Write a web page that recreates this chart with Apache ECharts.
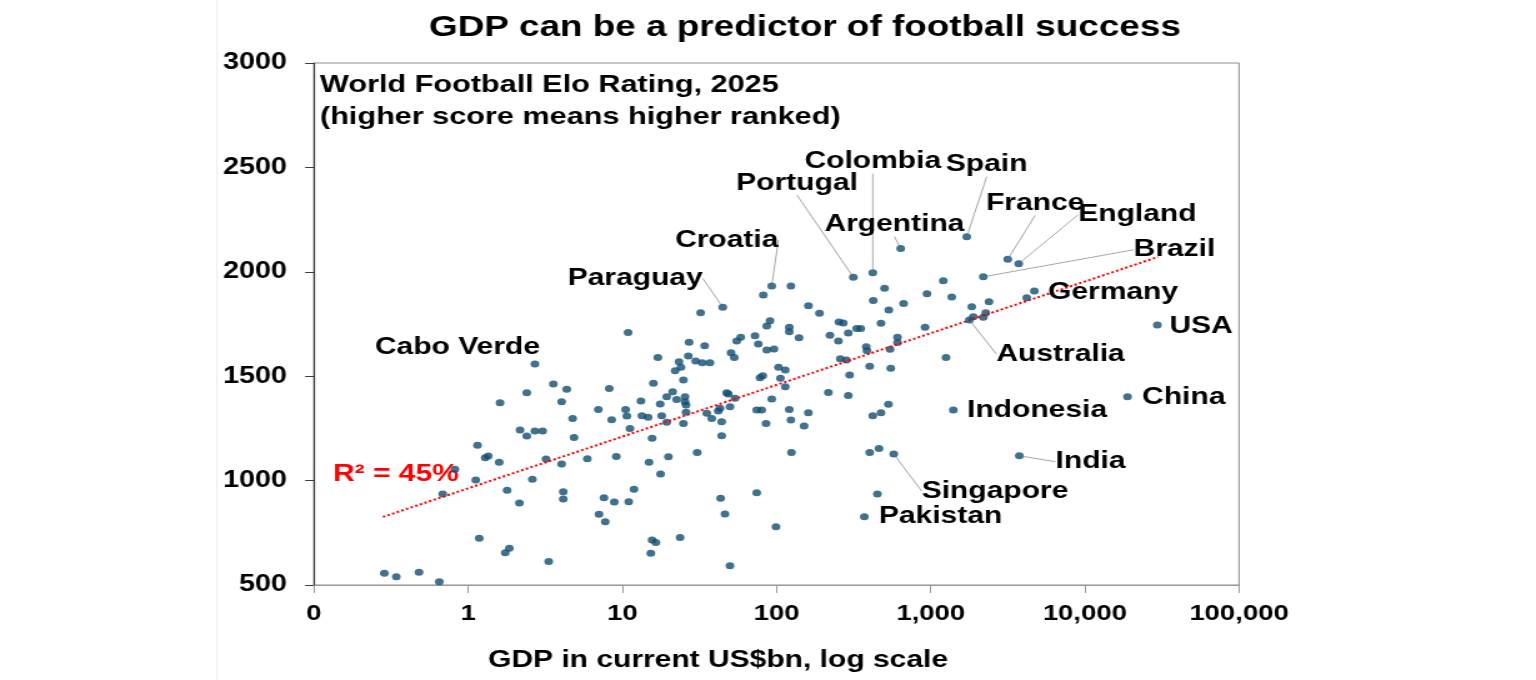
<!DOCTYPE html>
<html>
<head>
<meta charset="utf-8">
<title>GDP can be a predictor of football success</title>
<script src="https://cdn.jsdelivr.net/npm/echarts@6/dist/echarts.min.js"></script>
<style>
  html, body { margin: 0; padding: 0; background: #fff; overflow: hidden; }
  /* the source picture is stretched sideways, so the chart is drawn narrow and widened */
  #main { width: 1229px; height: 680px; transform: scaleX(1.2498); transform-origin: 0 0; }
</style>
</head>
<body>
<div id="main"></div>
<script>
// unlabelled countries: GDP (US$bn) and Elo rating
const gdp = [
  3.57, 2.40, 4.36, 1.61, 4.04, 8.23, 6.99, 10.5, 10.7, 8.53, 4.76, 11.2, 2.17, 2.71, 3.04, 2.40,
  4.86, 1.15, 1.29, 1.35, 1.59, 3.20, 4.04, 5.93, 9.14, 0.82, 1.12, 2.61, 0.684, 1.79, 4.14, 4.14,
  2.15, 7.60, 8.87, 11.0, 7.06, 7.75, 1.18, 1.74, 1.85, 3.33, 0.286, 0.342, 0.48, 0.65, 10.9,
  124, 82.1, 502, 946, 32.2, 161, 190, 424, 535, 667, 90.7, 86.4, 121, 121, 254, 271, 476, 919,
  72.5, 140, 222, 292, 331, 352, 27.1, 34.2, 55.2, 58.6, 76.2, 252, 609, 609, 86.4, 96.3, 382,
  386, 545, 17.0, 26.8, 29.9, 33.0, 37.0, 50.7, 53.2, 259, 284, 23.3, 24.0, 22.0, 103, 114, 402,
  551, 24.9, 81.4, 78.1, 106, 298, 15.9, 114, 21.2, 19.4, 22.5, 25.5, 25.5, 47.5, 48.7, 53.8,
  217, 292, 93.1, 13.2, 17.6, 25.9, 13.4, 14.7, 18.0, 19.4, 25.9, 35.3, 38.0, 43.0, 41.9, 49.9,
  44.1, 24.9, 74.4, 80.1, 121, 161, 124, 85.5, 151, 421, 476, 532, 15.6, 44.1, 14.9, 19.9, 17.7,
  30.6, 125, 402, 462, 11.9, 43.4, 74.4, 46.3, 451, 15.6, 16.5, 23.7, 15.3, 99.2, 49.9,
  1207, 1369, 4196, 1846, 2389, 1890, 2194, 2275, 1257
];
const elo = [
  1463, 1421, 1437, 1373, 1378, 1441, 1341, 1341, 1309, 1292, 1298, 1249, 1242, 1238, 1238, 1214,
  1207, 1169, 1110, 1118, 1088, 1103, 1079, 1105, 1116, 1054, 1003, 1006, 936, 954, 947, 912,
  893, 918, 897, 899, 839, 803, 724, 655, 676, 612, 556, 540, 561, 516, 1709,
  1932, 1889, 1921, 1895, 1804, 1838, 1802, 1862, 1817, 1848, 1766, 1740, 1734, 1713, 1760, 1755, 1753, 1734,
  1694, 1684, 1696, 1707, 1729, 1729, 1662, 1646, 1669, 1686, 1654, 1669, 1686, 1661, 1625, 1630, 1641,
  1622, 1629, 1590, 1597, 1573, 1565, 1565, 1612, 1590, 1584, 1578, 1569, 1543, 1526, 1543, 1530, 1548,
  1538, 1482, 1502, 1493, 1490, 1506, 1466, 1450, 1426, 1402, 1389, 1402, 1378, 1421, 1415, 1394,
  1422, 1407, 1391, 1381, 1367, 1362, 1311, 1303, 1311, 1279, 1327, 1322, 1298, 1346, 1333, 1354,
  1282, 1274, 1338, 1338, 1341, 1325, 1290, 1274, 1261, 1311, 1325, 1366, 1203, 1215, 1088, 1114, 1032,
  1134, 1134, 1134, 1154, 958, 915, 942, 840, 936, 716, 704, 727, 652, 779, 592,
  1957, 1879, 1876, 1833, 1857, 1785, 1782, 1804, 1589
];

// named countries
const countries = ['Cabo Verde', 'Paraguay', 'Croatia', 'Portugal', 'Colombia', 'Argentina', 'Spain',
  'France', 'England', 'Brazil', 'Germany', 'USA', 'Australia', 'Indonesia', 'China', 'India',
  'Singapore', 'Pakistan'];
const countryGdp = [2.71, 44.8, 93.1, 315, 421, 639, 1713, 3160, 3724, 2194, 4700, 29500, 1781,
  1402, 18900, 3756, 576, 371];
const countryElo = [1558, 1830, 1932, 1974, 1996, 2111, 2168, 2060, 2039, 1976, 1908, 1745, 1769,
  1338, 1402, 1119, 1127, 827];

// red dotted fitted line, ends
const trendGdp = [0.28, 29800];
const trendElo = [826, 2071];

const xTickLabels = ['0', '1', '10', '100', '1,000', '10,000', '100,000'];

// label shift from the dot [dx, dy] and whether a leader line is drawn
const labelSpot = {
  'Cabo Verde': [-62, -17, false],
  'Paraguay': [-70, -29, true],
  'Croatia': [-36, -46, true],
  'Portugal': [-45, -94, true],
  'Colombia': [0, -111, true],
  'Argentina': [-5, -24, true],
  'Spain': [16, -72, true],
  'France': [22, -56, true],
  'England': [95, -49, true],
  'Brazil': [153, -27, true],
  'Germany': [63, 1, false],
  'USA': [35, 1, false],
  'Australia': [73, 34, true],
  'Indonesia': [67, 0, false],
  'China': [45, 1, false],
  'India': [57, 6, true],
  'Singapore': [81, 37, true],
  'Pakistan': [61, 0, false]
};

const FONT = '"Liberation Sans", Arial, sans-serif';
const DOT = '#114d70';

const points = gdp.map((g, i) => [g, elo[i]]);
const named = countries.map((n, i) => ({
  name: n,
  value: [countryGdp[i], countryElo[i]],
  labelLine: { show: labelSpot[n][2] }
}));

const myChart = echarts.init(document.getElementById('main'), null, { renderer: 'canvas' });
myChart.setOption({
  animation: false,
  backgroundColor: '#ffffff',
  grid: {
    left: 251.2, right: 237.6, top: 63, bottom: 95,
    show: true, borderColor: '#8c8c8c', borderWidth: 1,
    outerBoundsMode: 'none'
  },
  xAxis: {
    type: 'log', logBase: 10, min: 0.1, max: 100000,
    axisLine: { lineStyle: { color: '#9a9a9a', width: 1 } },
    axisTick: { show: true, inside: false, length: 8, lineStyle: { color: '#9a9a9a' } },
    splitLine: { show: false },
    minorTick: { show: false },
    axisLabel: {
      margin: 18, color: '#000', fontFamily: FONT, fontWeight: 'bold', fontSize: 22,
      formatter: function (v) {
        return xTickLabels[Math.round(Math.log10(v)) + 1];
      }
    }
  },
  yAxis: {
    type: 'value', min: 500, max: 3000, interval: 500,
    axisLine: { show: true, lineStyle: { color: '#3a3a3a', width: 1.2 } },
    axisTick: { show: true, inside: false, length: 7, lineStyle: { color: '#3a3a3a' } },
    splitLine: { show: false },
    axisLabel: {
      margin: 21.6, color: '#000', fontFamily: FONT, fontWeight: 'bold', fontSize: 23,
      formatter: function (v) { return String(v); }
    }
  },
  graphic: [
    { type: 'line', shape: { x1: 173.6, y1: 0, x2: 173.6, y2: 680 }, style: { stroke: '#eeeeee', lineWidth: 1 } },
    {
      type: 'text', x: 644, y: 28,
      style: { text: 'GDP can be a predictor of football success', font: 'bold 29.5px ' + FONT,
        fill: '#000', textAlign: 'center', textVerticalAlign: 'middle' }
    },
    {
      type: 'text', x: 256, y: 69,
      style: { text: 'World Football Elo Rating, 2025\n(higher score means higher ranked)',
        font: 'bold 24.5px ' + FONT, lineHeight: 32, fill: '#000', textAlign: 'left', textVerticalAlign: 'top' }
    },
    {
      type: 'text', x: 266.4, y: 474,
      style: { text: 'R² = 45%', font: 'bold 24px ' + FONT, fill: '#ff0000',
        textAlign: 'left', textVerticalAlign: 'middle' }
    },
    {
      type: 'text', x: 574.5, y: 660,
      style: { text: 'GDP in current US$bn, log scale', font: 'bold 24px ' + FONT, fill: '#000',
        textAlign: 'center', textVerticalAlign: 'middle' }
    }
  ],
  series: [
    {
      type: 'scatter', data: points, symbol: 'circle', symbolSize: 7,
      itemStyle: { color: DOT }, z: 2
    },
    {
      type: 'scatter', data: named, symbol: 'circle', symbolSize: 7,
      itemStyle: { color: DOT }, z: 4,
      label: {
        show: true, position: ['50%', '50%'], align: 'center', verticalAlign: 'middle',
        formatter: '{b}', color: '#000', opacity: 1, textBorderWidth: 0,
        fontFamily: FONT, fontWeight: 'bold', fontSize: 24
      },
      labelLine: { show: true, lineStyle: { color: '#a8a8a8', width: 1 } },
      labelLayout: function (p) {
        const s = labelSpot[countries[p.dataIndex]];
        return { dx: s[0], dy: s[1] };
      }
    },
    {
      type: 'line', data: trendGdp.map((g, i) => [g, trendElo[i]]),
      symbol: 'none', z: 3, silent: true,
      lineStyle: { color: '#ff0000', type: 'dotted', width: 2 }
    }
  ]
});
</script>
</body>
</html>
